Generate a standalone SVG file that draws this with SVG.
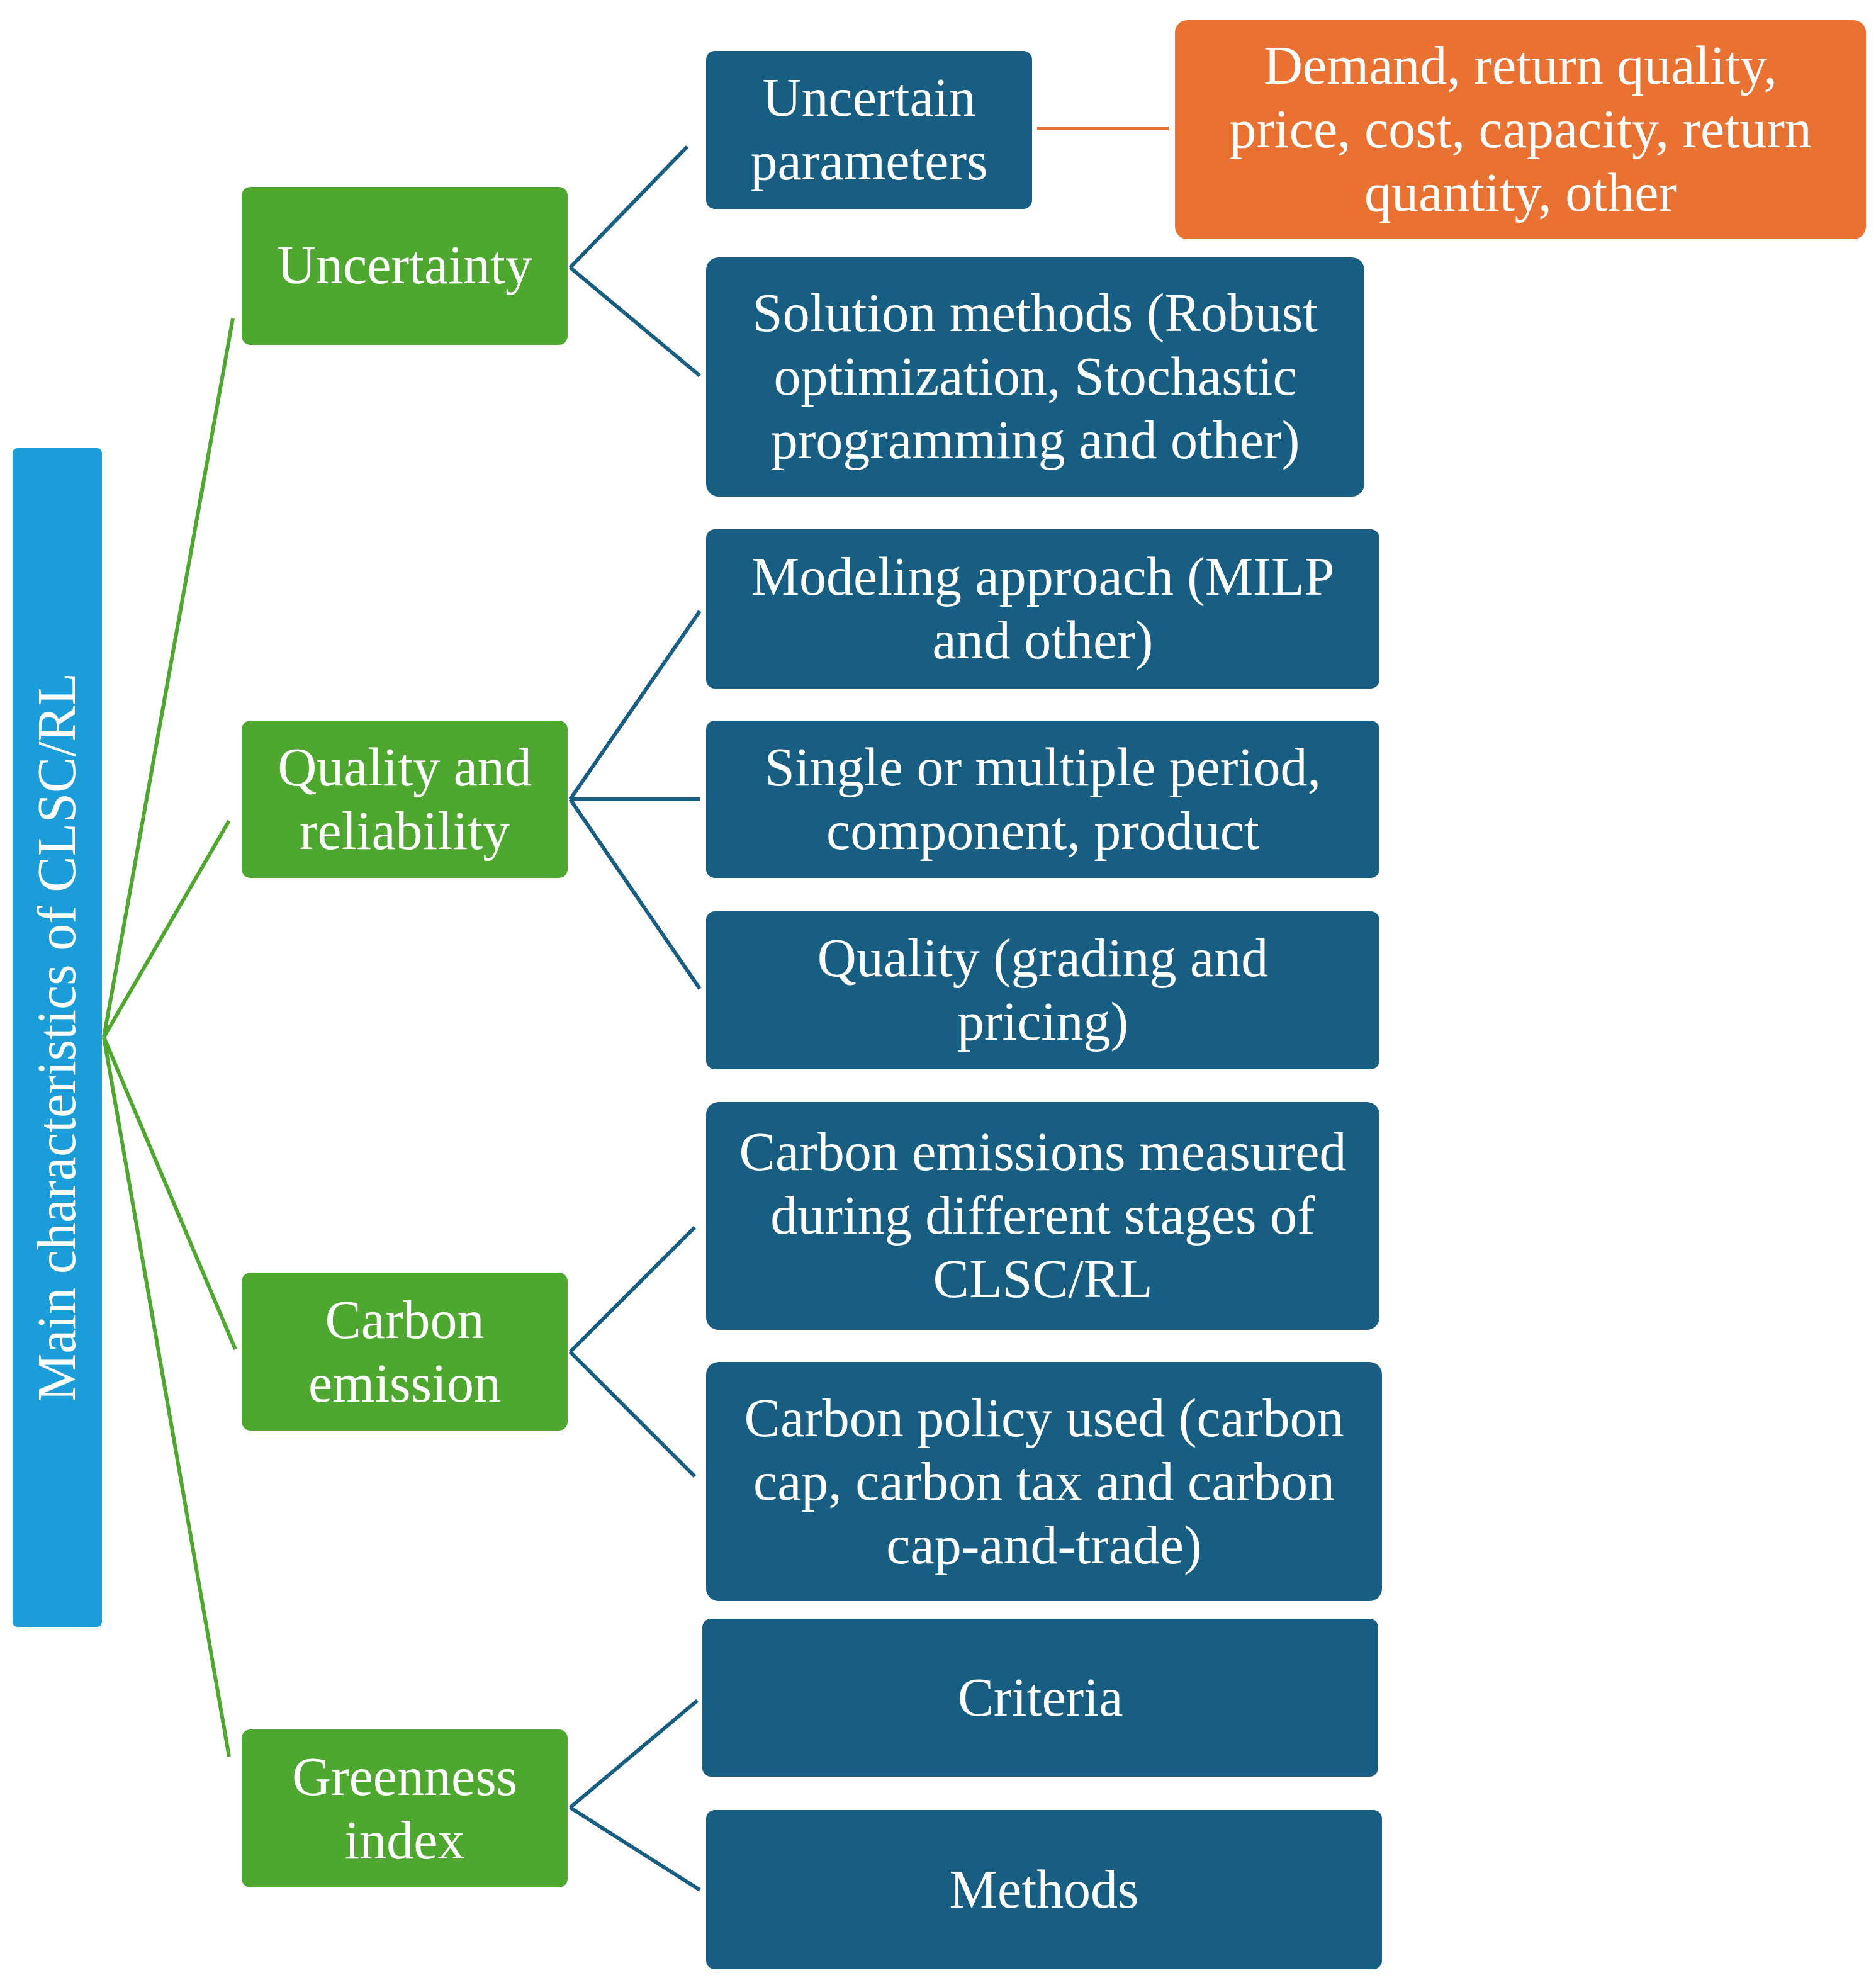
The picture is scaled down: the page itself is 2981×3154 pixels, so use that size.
<svg xmlns="http://www.w3.org/2000/svg" width="2981" height="3154" viewBox="0 0 2981 3154">
<style>
.t{font-family:"Liberation Serif","DejaVu Serif",serif;font-size:86px;fill:#fff;text-anchor:middle}
.g{fill:#4ea72e}.b{fill:#175e82}.o{fill:#e97132}
.gl{stroke:#4ea72e;stroke-width:6;fill:none}.bl{stroke:#175e82;stroke-width:6;fill:none}
</style>
<rect width="2981" height="3154" fill="#fff"/>
<g id="connectors">
<path class="gl" d="M165,1648L370,506M165,1648L364,1304M165,1648L374,2144M165,1648L364,2791"/>
<path class="bl" d="M906,425L1092,233M906,425L1112,597M906,1270L1112,971M906,1270L1112,1270M906,1270L1112,1571M906,2148L1104,1950M906,2148L1104,2346M906,2872L1108,2702M906,2872L1112,3003"/>
<path d="M1648,204L1857,204" stroke="#e97132" stroke-width="6"/>
</g>
<g id="root"><rect x="20" y="712" width="142" height="1873" rx="8" fill="#1a9dd9"/>
<text class="t" transform="translate(119,1648) rotate(-90)">Main characteristics of CLSC/RL</text></g>
<g id="uncertainty"><rect class="g" x="384" y="297" width="518" height="251" rx="14"/><text class="t" x="643" y="450">Uncertainty</text></g>
<g id="quality"><rect class="g" x="384" y="1145" width="518" height="250" rx="14"/><text class="t" x="643" y="1248">Quality and</text><text class="t" x="643" y="1349">reliability</text></g>
<g id="carbon"><rect class="g" x="384" y="2022" width="518" height="251" rx="14"/><text class="t" x="643" y="2126">Carbon</text><text class="t" x="643" y="2227">emission</text></g>
<g id="greenness"><rect class="g" x="384" y="2748" width="518" height="251" rx="14"/><text class="t" x="643" y="2852">Greenness</text><text class="t" x="643" y="2953">index</text></g>
<g id="params"><rect class="b" x="1122" y="81" width="518" height="251" rx="14"/><text class="t" x="1381" y="184">Uncertain</text><text class="t" x="1381" y="285">parameters</text></g>
<g id="orange"><rect class="o" x="1867" y="32" width="1098" height="348" rx="20"/><text class="t" x="2416" y="133">Demand, return quality,</text><text class="t" x="2416" y="234">price, cost,  capacity, return</text><text class="t" x="2416" y="335">quantity, other</text></g>
<g id="solution"><rect class="b" x="1122" y="409" width="1046" height="380" rx="20"/><text class="t" x="1645" y="526">Solution methods (Robust</text><text class="t" x="1645" y="627">optimization, Stochastic</text><text class="t" x="1645" y="728">programming and other)</text></g>
<g id="modeling"><rect class="b" x="1122" y="841" width="1070" height="253" rx="14"/><text class="t" x="1657" y="945">Modeling approach (MILP</text><text class="t" x="1657" y="1046">and other)</text></g>
<g id="single"><rect class="b" x="1122" y="1145" width="1070" height="250" rx="14"/><text class="t" x="1657" y="1248">Single or multiple period,</text><text class="t" x="1657" y="1349">component, product</text></g>
<g id="qgrading"><rect class="b" x="1122" y="1448" width="1070" height="251" rx="14"/><text class="t" x="1657" y="1551">Quality (grading and</text><text class="t" x="1657" y="1652">pricing)</text></g>
<g id="emissions"><rect class="b" x="1122" y="1751" width="1070" height="362" rx="20"/><text class="t" x="1657" y="1859">Carbon emissions measured</text><text class="t" x="1657" y="1960">during different stages of</text><text class="t" x="1657" y="2061">CLSC/RL</text></g>
<g id="policy"><rect class="b" x="1122" y="2164" width="1074" height="380" rx="20"/><text class="t" x="1659" y="2282">Carbon policy used (carbon</text><text class="t" x="1659" y="2383">cap, carbon tax and carbon</text><text class="t" x="1659" y="2484">cap-and-trade)</text></g>
<g id="criteria"><rect class="b" x="1116" y="2572" width="1074" height="251" rx="14"/><text class="t" x="1653" y="2726">Criteria</text></g>
<g id="methods"><rect class="b" x="1122" y="2876" width="1074" height="253" rx="14"/><text class="t" x="1659" y="3031">Methods</text></g>
</svg>
